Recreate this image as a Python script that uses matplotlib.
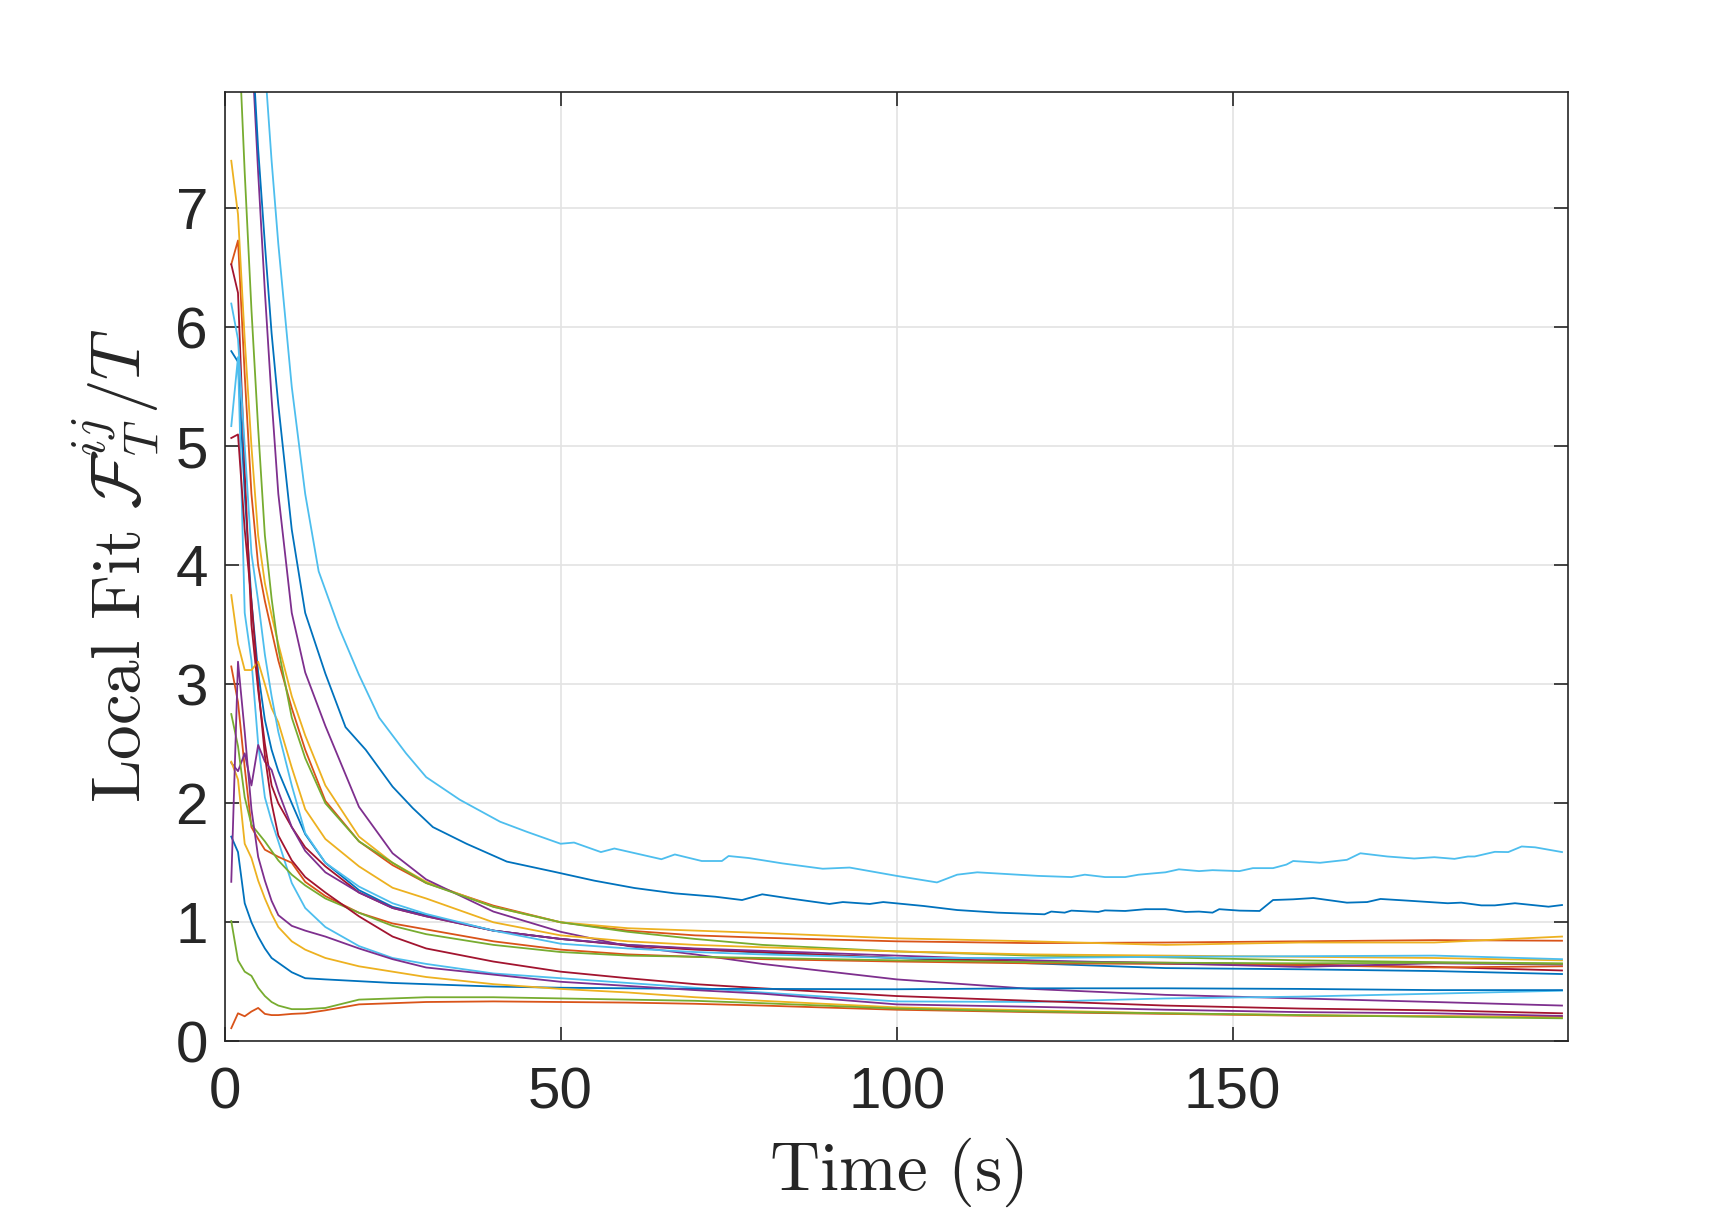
import numpy as np
import matplotlib
matplotlib.use("Agg")
import matplotlib.pyplot as plt

# MATLAB default colour order
blue = '#0072BD'
orange = '#D95319'
yellow = '#EDB120'
purple = '#7E2F8E'
green = '#77AC30'
lightblue = '#4DBEEE'
darkred = '#A2142F'

# common time grid (s) for most of the curves
t_grid = [1, 2, 3, 4, 5, 6, 7, 8, 10, 12, 15, 20, 25, 30, 40, 50, 60, 70, 80, 100, 120, 140, 160, 180, 199]

# top two curves, read more densely because of their wiggles
t_lb1 = [1, 2, 3, 4, 5, 6, 7, 8, 10, 12, 14, 17, 20, 23, 27, 30, 35, 41, 45, 50, 52, 56, 58, 65,
         67, 71, 74, 75, 78, 83, 89, 93, 100, 106, 109, 112, 121, 126, 128, 131, 134, 136, 140, 142,
         145, 147, 151, 153, 156, 158, 159, 163, 167, 169, 173, 177, 180, 183, 185, 186, 189, 191,
         193, 195, 199]
lightblue_1 = [17, 14, 12, 10.4, 9.2, 8.2, 7.4, 6.7, 5.5, 4.6, 3.95, 3.48, 3.08, 2.72, 2.42, 2.22,
               2.03, 1.845, 1.76, 1.66, 1.67, 1.59, 1.62, 1.53, 1.57, 1.515, 1.515, 1.557, 1.54,
               1.495, 1.45, 1.46, 1.39, 1.335, 1.40, 1.42, 1.39, 1.38, 1.40, 1.38, 1.38, 1.40, 1.42,
               1.445, 1.43, 1.438, 1.43, 1.455, 1.455, 1.485, 1.515, 1.50, 1.525, 1.58, 1.553,
               1.536, 1.547, 1.533, 1.553, 1.553, 1.592, 1.59, 1.637, 1.63, 1.59]

t_b1 = [1, 2, 3, 4, 5, 6, 7, 8, 10, 12, 15, 18, 21, 25, 28, 31, 36, 42, 49, 55, 61, 67, 73, 77,
        80, 84, 90, 92, 96, 98, 104, 109, 115, 122, 123, 125, 126, 130, 131, 134, 137, 140, 143,
        145, 147, 148, 151, 154, 156, 159, 162, 167, 170, 172, 176, 182, 184, 187, 189, 192, 197, 199]
blue_1 = [15, 12.5, 10.5, 8.5, 7.5, 6.7, 5.95, 5.35, 4.3, 3.6, 3.09, 2.64, 2.45, 2.14, 1.96, 1.80,
          1.66, 1.51, 1.425, 1.35, 1.288, 1.243, 1.215, 1.187, 1.235, 1.201, 1.154, 1.17, 1.154,
          1.17, 1.137, 1.103, 1.081, 1.067, 1.09, 1.081, 1.098, 1.087, 1.10, 1.095, 1.11, 1.11,
          1.087, 1.09, 1.081, 1.11, 1.098, 1.095, 1.187, 1.193, 1.204, 1.165, 1.17, 1.196, 1.182,
          1.16, 1.165, 1.142, 1.142, 1.16, 1.131, 1.145]

# curves on t_grid
purple_1 = [16, 12.5, 10, 8.4, 7.3, 6.3, 5.4, 4.6, 3.6, 3.1, 2.65, 1.97, 1.58, 1.36, 1.09, 0.92, 0.80, 0.73, 0.65, 0.52, 0.44, 0.39, 0.36, 0.33, 0.30]
green_1 = [11, 8.6, 7.3, 6.15, 5.15, 4.25, 3.72, 3.3, 2.72, 2.38, 2.0, 1.68, 1.5, 1.33, 1.13, 1.0, 0.92, 0.86, 0.81, 0.755, 0.72, 0.705, 0.68, 0.665, 0.655]
yellow_1 = [7.4, 6.95, 5.9, 5.0, 4.25, 3.85, 3.58, 3.34, 2.9, 2.57, 2.15, 1.72, 1.5, 1.34, 1.13, 1.0, 0.95, 0.93, 0.91, 0.865, 0.84, 0.81, 0.83, 0.83, 0.88]
orange_1 = [6.53, 6.73, 5.6, 4.6, 4.0, 3.7, 3.45, 3.2, 2.8, 2.45, 2.02, 1.68, 1.48, 1.33, 1.14, 1.0, 0.93, 0.89, 0.87, 0.84, 0.825, 0.83, 0.84, 0.85, 0.845]
yellow_2 = [3.75, 3.34, 3.12, 3.12, 3.19, 3.0, 2.8, 2.68, 2.3, 1.95, 1.7, 1.47, 1.29, 1.2, 1.0, 0.89, 0.84, 0.81, 0.79, 0.755, 0.73, 0.72, 0.71, 0.70, 0.68]
darkred_1 = [6.53, 6.29, 4.8, 3.5, 2.95, 2.5, 2.15, 2.0, 1.8, 1.63, 1.47, 1.25, 1.12, 1.05, 0.93, 0.86, 0.805, 0.77, 0.75, 0.70, 0.67, 0.66, 0.645, 0.625, 0.595]
darkred_2 = [5.07, 5.1, 4.3, 3.7, 3.0, 2.4, 2.0, 1.73, 1.52, 1.38, 1.25, 1.05, 0.88, 0.78, 0.67, 0.585, 0.53, 0.48, 0.445, 0.38, 0.34, 0.30, 0.275, 0.26, 0.235]
blue_2 = [5.8, 5.71, 4.6, 3.7, 3.1, 2.7, 2.45, 2.27, 2.0, 1.74, 1.5, 1.27, 1.13, 1.06, 0.93, 0.86, 0.81, 0.775, 0.745, 0.70, 0.655, 0.615, 0.605, 0.59, 0.565]
lightblue_3 = [5.17, 5.75, 3.6, 3.2, 2.5, 2.05, 1.85, 1.68, 1.33, 1.12, 0.96, 0.80, 0.70, 0.65, 0.57, 0.53, 0.49, 0.45, 0.41, 0.335, 0.33, 0.36, 0.375, 0.40, 0.425]
lightblue_2 = [6.2, 5.9, 5.0, 4.1, 3.7, 3.25, 2.9, 2.6, 2.15, 1.75, 1.5, 1.3, 1.16, 1.07, 0.93, 0.82, 0.78, 0.75, 0.73, 0.70, 0.70, 0.71, 0.715, 0.72, 0.69]
orange_2 = [3.15, 2.85, 2.3, 1.8, 1.7, 1.61, 1.58, 1.55, 1.5, 1.34, 1.22, 1.08, 0.99, 0.94, 0.84, 0.77, 0.73, 0.71, 0.69, 0.67, 0.655, 0.65, 0.64, 0.62, 0.63]
green_2 = [2.75, 2.48, 2.05, 1.82, 1.75, 1.68, 1.6, 1.52, 1.4, 1.31, 1.2, 1.08, 0.97, 0.90, 0.81, 0.75, 0.72, 0.71, 0.70, 0.68, 0.665, 0.66, 0.655, 0.66, 0.65]
purple_2 = [2.34, 2.27, 2.42, 2.15, 2.49, 2.35, 2.28, 2.1, 1.8, 1.6, 1.42, 1.25, 1.12, 1.05, 0.93, 0.86, 0.81, 0.78, 0.76, 0.72, 0.68, 0.655, 0.625, 0.655, 0.645]
purple_3 = [1.34, 3.19, 2.6, 1.95, 1.55, 1.35, 1.18, 1.06, 0.97, 0.93, 0.88, 0.78, 0.69, 0.62, 0.56, 0.50, 0.465, 0.43, 0.40, 0.31, 0.29, 0.265, 0.245, 0.235, 0.213]
yellow_3 = [2.35, 2.2, 1.66, 1.54, 1.35, 1.2, 1.07, 0.96, 0.84, 0.77, 0.70, 0.63, 0.585, 0.54, 0.48, 0.44, 0.41, 0.37, 0.34, 0.285, 0.26, 0.235, 0.22, 0.21, 0.20]
blue_3 = [1.72, 1.59, 1.16, 1.0, 0.88, 0.78, 0.70, 0.66, 0.58, 0.53, 0.52, 0.505, 0.49, 0.48, 0.46, 0.45, 0.445, 0.44, 0.44, 0.437, 0.445, 0.445, 0.44, 0.43, 0.43]
green_3 = [1.01, 0.68, 0.585, 0.55, 0.45, 0.38, 0.33, 0.30, 0.27, 0.27, 0.28, 0.35, 0.36, 0.37, 0.37, 0.36, 0.35, 0.34, 0.32, 0.275, 0.25, 0.235, 0.22, 0.205, 0.193]
orange_3 = [0.11, 0.235, 0.21, 0.25, 0.28, 0.23, 0.22, 0.22, 0.23, 0.235, 0.26, 0.31, 0.32, 0.33, 0.335, 0.33, 0.325, 0.315, 0.30, 0.265, 0.245, 0.23, 0.215, 0.21, 0.205]

x_ticks = [0, 50, 100, 150]
y_ticks = [0, 1, 2, 3, 4, 5, 6, 7]

curves = [
    (t_grid, blue_2, blue), (t_grid, orange_1, orange), (t_grid, yellow_1, yellow),
    (t_grid, purple_1, purple), (t_grid, green_1, green), (t_grid, lightblue_3, lightblue),
    (t_grid, darkred_1, darkred),
    (t_b1, blue_1, blue), (t_grid, orange_2, orange), (t_grid, yellow_2, yellow),
    (t_grid, purple_2, purple), (t_grid, green_2, green), (t_lb1, lightblue_1, lightblue),
    (t_grid, darkred_2, darkred),
    (t_grid, blue_3, blue), (t_grid, orange_3, orange), (t_grid, yellow_3, yellow),
    (t_grid, purple_3, purple), (t_grid, green_3, green), (t_grid, lightblue_2, lightblue),
]

plt.rcParams['mathtext.fontset'] = 'cm'
plt.rcParams['font.family'] = ['Liberation Sans', 'DejaVu Sans']

fig = plt.figure(figsize=(8.67, 6.085), dpi=200)
ax = fig.add_axes([0.1295, 0.1444, 0.7748, 0.7802])

for t, y, c in curves:
    ax.plot(t, y, color=c, linewidth=0.65, solid_joinstyle='round')

ax.set_xlim(0, 199.9)
ax.set_ylim(0, 7.98)
ax.set_xticks(x_ticks)
ax.set_yticks(y_ticks)
ax.grid(True, color='#e3e3e3', linewidth=0.6)
ax.set_axisbelow(True)

for s in ax.spines.values():
    s.set_color('#262626')
    s.set_linewidth(0.6)
ax.tick_params(direction='in', length=5, width=0.6, color='#262626',
               top=True, right=True, labelsize=21, labelcolor='#262626')
ax.tick_params(axis='x', pad=9)
ax.tick_params(axis='y', pad=6)

fig.text(0.5168, 0.037, r'$\mathrm{Time\ (s)}$', ha='center', va='center',
         fontsize=25, color='#262626')
fig.text(0.067, 0.535, r'$\mathrm{Local\ Fit}\ \mathcal{F}_T^{ij}/T$', ha='center',
         va='center', rotation=90, fontsize=25, color='#262626')

fig.savefig('out.png', dpi=200, facecolor='white')
